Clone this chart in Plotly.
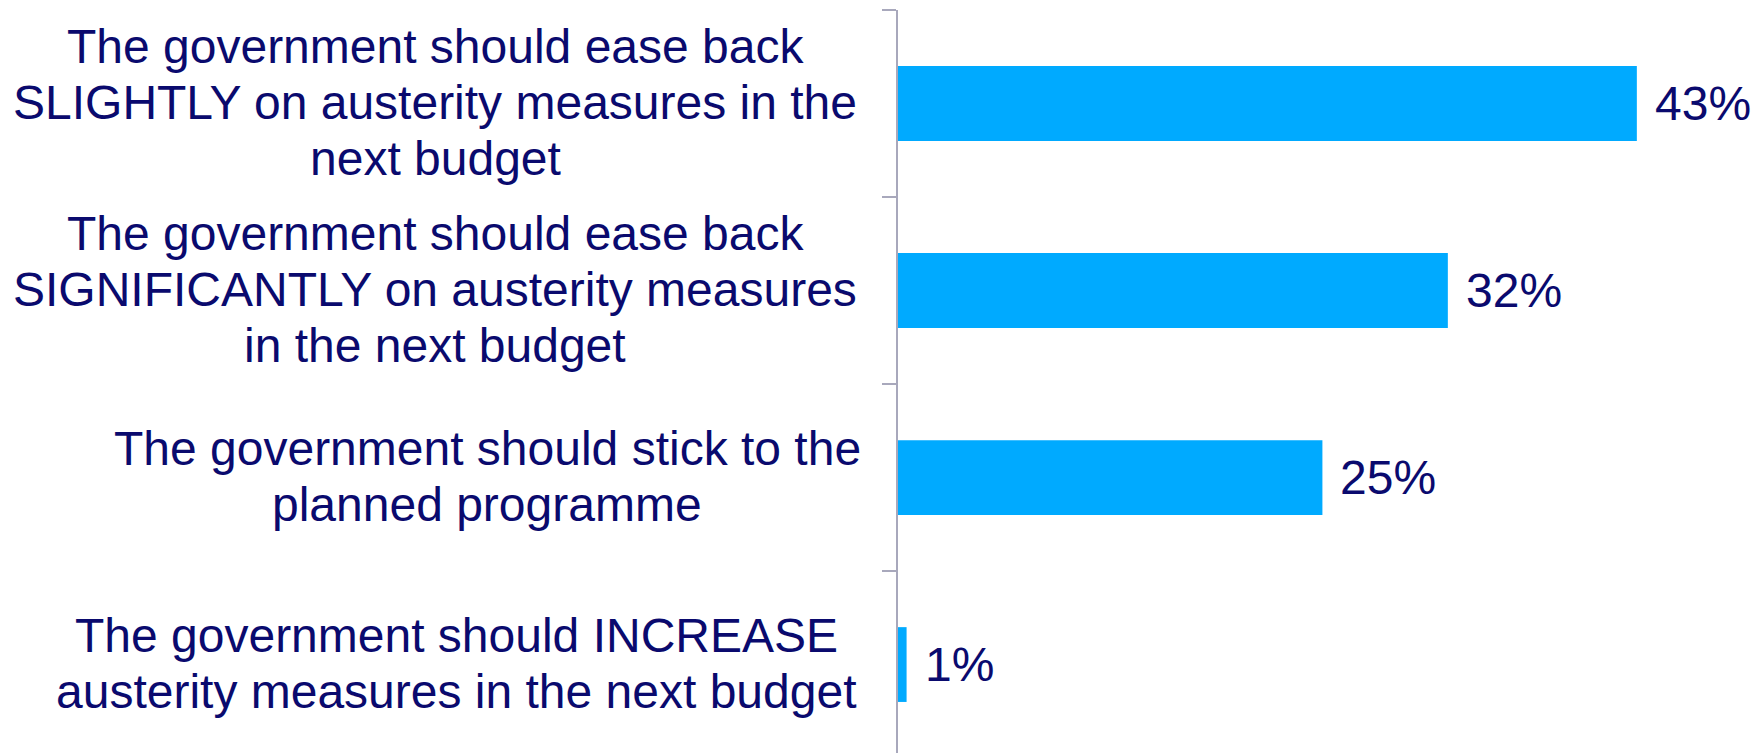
import plotly.graph_objects as go

categories = [
    "The government should ease back<br>SLIGHTLY on austerity measures in the<br>next budget",
    "The government should ease back<br>SIGNIFICANTLY on austerity measures<br>in the next budget",
    "The government should stick to the<br>planned programme",
    "The government should INCREASE<br>austerity measures in the next budget",
]
values = [43, 32, 24.7, 0.5]
value_labels = ["43%", "32%", "25%", "1%"]

# layout constants (pixels)
AXIS_X = 898
LABEL_CENTERS = [435, 435, 487, 456]   # horizontal centre of each label block
LINE_PITCH = 56
FONT_SIZE = 48

NAVY = "#0A0A6E"
BAR = "#00AAFF"
AXIS = "#A8A8BC"
FONT = "Liberation Sans, Arial, sans-serif"

fig = go.Figure()
fig.add_trace(go.Bar(
    x=values, y=categories, orientation="h",
    marker=dict(color=BAR, line=dict(width=0)),
    hoverinfo="skip",
))

annotations = []
for cat, cx in zip(categories, LABEL_CENTERS):
    lines = cat.split("<br>")
    n = len(lines)
    for i, line in enumerate(lines):
        annotations.append(dict(
            x=0, y=cat, xref="x", yref="y", text=line, showarrow=False,
            xanchor="center", yanchor="middle",
            xshift=cx - AXIS_X, yshift=-(i - (n - 1) / 2) * LINE_PITCH + 1,
            font=dict(family=FONT, size=FONT_SIZE, color=NAVY),
        ))
for cat, v, lab in zip(categories, values, value_labels):
    annotations.append(dict(
        x=v, y=cat, xref="x", yref="y", text=lab, showarrow=False,
        xanchor="left", yanchor="middle", xshift=16,
        font=dict(family=FONT, size=FONT_SIZE, color=NAVY),
    ))

fig.update_layout(
    width=1764, height=753,
    margin=dict(l=AXIS_X, r=0, t=10, b=0),
    paper_bgcolor="white", plot_bgcolor="white",
    bargap=0.6, showlegend=False,
    annotations=annotations,
    font=dict(family=FONT, color=NAVY),
)
fig.update_xaxes(range=[0, 50.4], visible=False, showgrid=False, zeroline=False)
fig.update_yaxes(
    type="category", categoryorder="array", categoryarray=categories,
    range=[3.473, -0.5], showticklabels=False, showgrid=False, zeroline=False,
    showline=True, linecolor=AXIS, linewidth=2,
    ticks="outside", tickson="boundaries", ticklen=14, tickcolor=AXIS, tickwidth=2,
)

fig.write_html(
    "out.html",
    config={"displayModeBar": False},
    post_script="document.body.style.margin='0';document.body.style.overflow='hidden';",
)
